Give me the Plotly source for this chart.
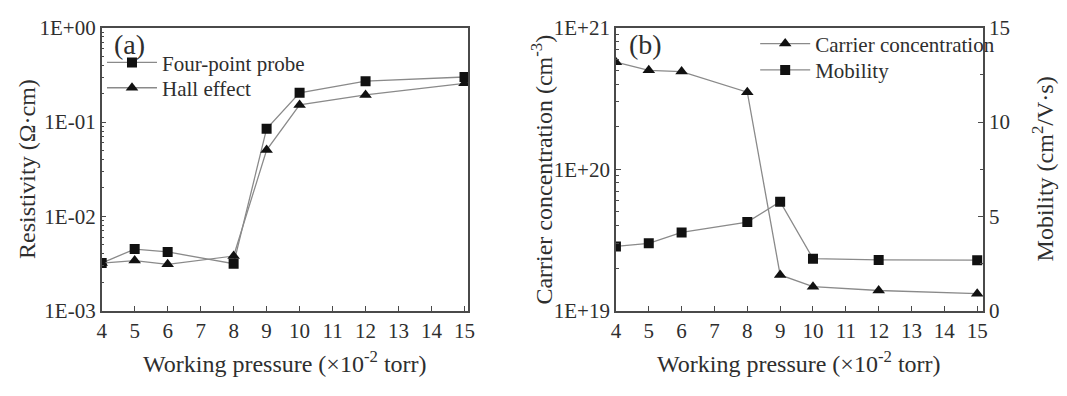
import plotly.graph_objects as go

# ---------------- data ----------------
pressure = [4, 5, 6, 8, 9, 10, 12, 15]
four_point = [3.2e-3, 4.5e-3, 4.2e-3, 3.15e-3, 0.085, 0.204, 0.271, 0.30]
hall = [3.2e-3, 3.4e-3, 3.1e-3, 3.8e-3, 0.0505, 0.152, 0.194, 0.257]
carrier = [5.7e20, 5.0e20, 4.9e20, 3.5e20, 1.79e19, 1.48e19, 1.39e19, 1.32e19]
mobility = [3.41, 3.57, 4.15, 4.70, 5.78, 2.76, 2.69, 2.68]

x_ticks = list(range(4, 16))
res_tickvals = [1, 0.1, 0.01, 0.001]
res_ticktext = ["1E+00", "1E-01", "1E-02", "1E-03"]
cc_tickvals = [1e21, 1e20, 1e19]
cc_ticktext = ["1E+21", "1E+20", "1E+19"]
mob_ticks = [0, 5, 10, 15]

# ---------------- style ----------------
W, H = 1067, 396
FONT = "Liberation Serif"
AX = "#4a4a4a"
LINE = "#8a8a8a"
MK = "#111111"
TXT = "#2e2e2e"

def px_x(p):
    return p / W

def px_y(p):
    return 1 - p / H

top, bottom = 16.7, 318.0
ydom = [px_y(bottom), px_y(top)]

fig = go.Figure()

line_style = dict(color=LINE, width=1.3)

fig.add_trace(go.Scatter(x=pressure, y=four_point, name="Four-point probe", mode="lines+markers",
                         line=line_style, marker=dict(symbol="square", size=10, color=MK),
                         xaxis="x", yaxis="y", legend="legend"))
fig.add_trace(go.Scatter(x=pressure, y=hall, name="Hall effect", mode="lines+markers",
                         line=line_style, marker=dict(symbol="triangle-up", size=11, color=MK),
                         xaxis="x", yaxis="y", legend="legend2"))
fig.add_trace(go.Scatter(x=pressure, y=carrier, name="Carrier concentration", mode="lines+markers",
                         line=line_style, marker=dict(symbol="triangle-up", size=11, color=MK),
                         xaxis="x2", yaxis="y2", legend="legend3"))
fig.add_trace(go.Scatter(x=pressure, y=mobility, name="Mobility", mode="lines+markers",
                         line=line_style, marker=dict(symbol="square", size=10, color=MK),
                         xaxis="x2", yaxis="y3", legend="legend4"))

tickfont = dict(family=FONT, size=21, color=TXT)

xcommon = dict(tickmode="array", tickvals=x_ticks, ticks="inside", ticklen=5, tickwidth=1.3,
               tickcolor=AX, showline=True, linecolor=AX, linewidth=1.6, mirror=True,
               showgrid=False, zeroline=False, tickfont=tickfont)

def leg(xpx, ypx):
    return dict(x=px_x(xpx), y=px_y(ypx), xanchor="left", yanchor="middle",
                bgcolor="rgba(0,0,0,0)", font=dict(family=FONT, size=21, color=TXT),
                itemwidth=50, tracegroupgap=0)

fig.update_layout(
    width=W, height=H,
    margin=dict(l=0, r=0, t=0, b=0),
    paper_bgcolor="white", plot_bgcolor="white",
    font=dict(family=FONT, color=TXT),
    xaxis=dict(domain=[px_x(97.7), px_x(468.3)], range=[4, 15.12], anchor="y", **xcommon),
    xaxis2=dict(domain=[px_x(617.3), px_x(988.3)], range=[4, 15.18], anchor="y2", **xcommon),
    yaxis=dict(domain=ydom, type="log", range=[-3, 0], anchor="x",
               tickmode="array", tickvals=res_tickvals, ticktext=res_ticktext,
               ticks="inside", ticklen=5, tickwidth=1.3, tickcolor=AX,
               minor=dict(ticks="inside", ticklen=3, tickcolor=AX, dtick="D1", showgrid=False),
               showline=True, linecolor=AX, linewidth=1.6, mirror=True,
               showgrid=False, zeroline=False, tickfont=tickfont),
    yaxis2=dict(domain=ydom, type="log", range=[19, 21], anchor="x2",
                tickmode="array", tickvals=cc_tickvals, ticktext=cc_ticktext,
                ticks="inside", ticklen=5, tickwidth=1.3, tickcolor=AX,
                minor=dict(ticks="inside", ticklen=3, tickcolor=AX, dtick="D1", showgrid=False),
                showline=True, linecolor=AX, linewidth=1.6, mirror=True,
                showgrid=False, zeroline=False, tickfont=tickfont),
    yaxis3=dict(domain=ydom, range=[0, 15], overlaying="y2", side="right", anchor="x2",
                tickmode="array", tickvals=mob_ticks,
                ticks="inside", ticklen=5, tickwidth=1.3, tickcolor=AX,
                minor=dict(ticks="inside", ticklen=3, tickcolor=AX, dtick=2.5, showgrid=False),
                showline=True, linecolor=AX, linewidth=1.6,
                showgrid=False, zeroline=False, tickfont=tickfont),
    legend=leg(98, 54),
    legend2=leg(98, 81),
    legend3=leg(758, 34),
    legend4=leg(758, 62),
    showlegend=True,
)

title_font = dict(family=FONT, size=24, color=TXT)
ycenter = px_y((top + bottom) / 2)
annots = [
    dict(text="(a)", x=px_x(126), y=px_y(35), font=dict(family=FONT, size=28, color=TXT)),
    dict(text="(b)", x=px_x(647), y=px_y(35), font=dict(family=FONT, size=28, color=TXT)),
    dict(text="Working pressure (×10<sup>-2</sup> torr)", x=px_x(283), y=px_y(373), font=title_font),
    dict(text="Working pressure (×10<sup>-2</sup> torr)", x=px_x(802), y=px_y(373), font=title_font),
    dict(text="Resistivity (Ω·cm)", x=px_x(22), y=ycenter, textangle=-90, font=title_font),
    dict(text="Carrier concentration (cm<sup>-3</sup>)", x=px_x(543), y=ycenter, textangle=-90, font=title_font),
    dict(text="Mobility (cm<sup>2</sup>/V·s)", x=px_x(1049), y=ycenter, textangle=-90, font=title_font),
]
for a in annots:
    fig.add_annotation(xref="paper", yref="paper", showarrow=False, xanchor="center", yanchor="middle", **a)

fig.write_html("out.html")
